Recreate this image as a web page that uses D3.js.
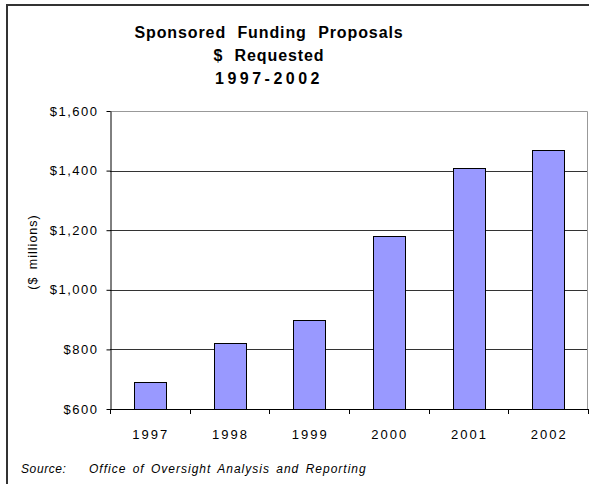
<!DOCTYPE html>
<html>
<head>
<meta charset="utf-8">
<script src="https://cdn.jsdelivr.net/npm/d3@7"></script>
<style>
  body { margin: 0; background: #fff; }
  svg { display: block; font-family: "Liberation Sans", Arial, sans-serif; }
</style>
</head>
<body>
<div id="chart"></div>
<script>
'use strict';

// chart data
const years = ["1997", "1998", "1999", "2000", "2001", "2002"];
const requested = [690, 820, 900, 1180, 1410, 1470];
const yTicks = [600, 800, 1000, 1200, 1400, 1600];
const titleLines = ["Sponsored Funding Proposals", "$ Requested", "1997-2002"];

const width = 589;
const height = 484;
const plot = { left: 110, right: 588, top: 111, bottom: 409 };

const svg = d3.select("#chart")
    .append("svg")
    .attr("width", width)
    .attr("height", height);

// outer frame (cut off on the right and bottom, like the picture)
svg.append("rect")
    .attr("x", 7)
    .attr("y", 5)
    .attr("width", 640)
    .attr("height", 540)
    .attr("fill", "none")
    .attr("stroke", "#333")
    .attr("stroke-width", 2);

// title
svg.append("g")
    .selectAll("text")
    .data(titleLines)
    .enter()
    .append("text")
    .attr("x", 269)
    .attr("y", (d, i) => 38 + i * 23)
    .attr("text-anchor", "middle")
    .style("font-size", "16px")
    .style("font-weight", "bold")
    .style("letter-spacing", (d, i) => i === 2 ? "3.5px" : "0.9px")
    .style("word-spacing", "6px")
    .text(d => d);

const x = d3.scaleBand()
    .domain(years)
    .range([plot.left, plot.right])
    .paddingInner(0.6)
    .paddingOuter(0.3);

const y = d3.scaleLinear()
    .domain([600, 1600])
    .range([plot.bottom, plot.top]);

// gridlines
svg.append("g")
    .selectAll("line")
    .data(yTicks.slice(1, -1))
    .enter()
    .append("line")
    .attr("x1", plot.left)
    .attr("x2", plot.right)
    .attr("y1", d => Math.round(y(d)) + 0.5)
    .attr("y2", d => Math.round(y(d)) + 0.5)
    .attr("stroke", "#333");

// plot border top + right
svg.append("path")
    .attr("d", `M${plot.left},${plot.top + 0.5}H${plot.right - 0.5}V${plot.bottom}`)
    .attr("fill", "none")
    .attr("stroke", "#999");

// bars
svg.append("g")
    .selectAll("rect")
    .data(years)
    .enter()
    .append("rect")
    .attr("x", d => Math.round(x(d)) + 0.5)
    .attr("y", (d, i) => Math.round(y(requested[i])) + 0.5)
    .attr("width", Math.round(x.bandwidth()))
    .attr("height", (d, i) => Math.round(y(600)) - Math.round(y(requested[i])))
    .attr("fill", "#9999ff")
    .attr("stroke", "#000")
    .attr("stroke-width", 1);

// y axis
const yAxis = svg.append("g")
    .attr("transform", `translate(${plot.left + 0.5},0)`)
    .call(d3.axisLeft(y)
        .tickValues(yTicks)
        .tickSize(4)
        .tickSizeOuter(0)
        .tickPadding(8)
        .tickFormat(d => "$" + d3.format(",")(d)));
yAxis.select(".domain").attr("stroke", "#000");
yAxis.selectAll("line").attr("stroke", "#000");
yAxis.selectAll("text")
    .style("font-size", "13px")
    .style("letter-spacing", "1.5px")
    .attr("fill", "#000");

// x axis: baseline, ticks between categories
const step = x.step();
const xStart = x(years[0]) - x.paddingOuter() * step;
svg.append("line")
    .attr("x1", plot.left)
    .attr("x2", plot.right)
    .attr("y1", plot.bottom + 0.5)
    .attr("y2", plot.bottom + 0.5)
    .attr("stroke", "#000");

svg.append("g")
    .selectAll("line")
    .data(d3.range(years.length + 1))
    .enter()
    .append("line")
    .attr("x1", i => Math.round(xStart + i * step) + 0.5)
    .attr("x2", i => Math.round(xStart + i * step) + 0.5)
    .attr("y1", plot.bottom)
    .attr("y2", plot.bottom + 5)
    .attr("stroke", "#000");

svg.append("g")
    .selectAll("text")
    .data(years)
    .enter()
    .append("text")
    .attr("x", d => x(d) + x.bandwidth() / 2 + 1)
    .attr("y", 439)
    .attr("text-anchor", "middle")
    .style("font-size", "13px")
    .style("letter-spacing", "2px")
    .text(d => d);

// y axis label
svg.append("text")
    .attr("transform", "translate(37,252) rotate(-90)")
    .attr("text-anchor", "middle")
    .style("font-size", "12.5px")
    .style("letter-spacing", "1px")
    .style("word-spacing", "3px")
    .text("($ millions)");

// source note
svg.append("text")
    .attr("x", 21)
    .attr("y", 473)
    .style("font-size", "12px")
    .style("font-style", "italic")
    .style("letter-spacing", "0.6px")
    .text("Source:");

svg.append("text")
    .attr("x", 89)
    .attr("y", 473)
    .style("font-size", "12px")
    .style("font-style", "italic")
    .style("letter-spacing", "1px")
    .style("word-spacing", "2px")
    .text("Office of Oversight Analysis and Reporting");
</script>
</body>
</html>
